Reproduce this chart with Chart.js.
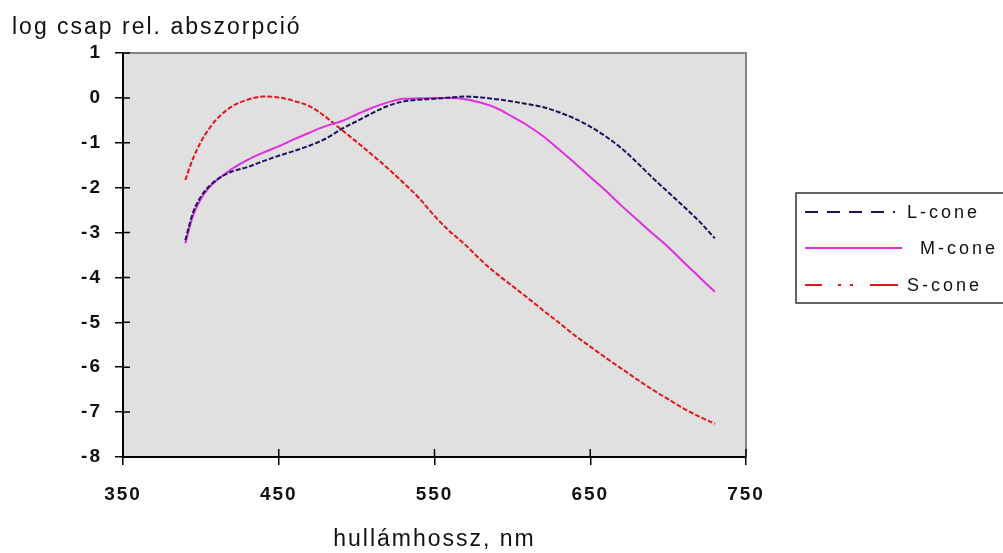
<!DOCTYPE html>
<html>
<head>
<meta charset="utf-8">
<script src="https://cdn.jsdelivr.net/npm/chart.js@4"></script>
<style>
  html, body { margin: 0; padding: 0; background: #fff; }
  #wrap { width: 1003px; height: 553px; }
</style>
</head>
<body>
<div id="wrap"><canvas id="coneChart" width="1003" height="553"></canvas></div>
<script>
// wavelengths (nm) and log relative absorption
const wavelengths = [390, 395, 400, 405, 410, 420, 430, 440, 450, 460, 470, 480, 490, 500, 510, 520, 530, 540, 550, 560, 570, 580, 590, 600, 610, 620, 630, 640, 650, 660, 670, 680, 690, 700, 710, 720, 730];
const lCone = [-3.17, -2.55, -2.2, -1.98, -1.83, -1.64, -1.54, -1.41, -1.29, -1.18, -1.06, -0.91, -0.7, -0.52, -0.34, -0.18, -0.08, -0.04, -0.02, 0.01, 0.03, 0.01, -0.03, -0.08, -0.14, -0.21, -0.32, -0.46, -0.64, -0.86, -1.12, -1.44, -1.78, -2.1, -2.42, -2.75, -3.13];
const mCone = [-3.24, -2.62, -2.25, -2.01, -1.84, -1.58, -1.38, -1.22, -1.08, -0.92, -0.77, -0.63, -0.52, -0.37, -0.22, -0.1, -0.02, -0.01, 0, 0, -0.03, -0.11, -0.23, -0.42, -0.62, -0.86, -1.15, -1.45, -1.76, -2.07, -2.4, -2.71, -3.02, -3.32, -3.66, -3.99, -4.32];
const sCone = [-1.83, -1.35, -0.98, -0.7, -0.48, -0.19, -0.04, 0.03, 0.01, -0.07, -0.19, -0.42, -0.7, -0.98, -1.27, -1.57, -1.89, -2.23, -2.63, -2.98, -3.28, -3.62, -3.92, -4.19, -4.46, -4.74, -5.01, -5.29, -5.54, -5.79, -6.03, -6.27, -6.5, -6.71, -6.92, -7.1, -7.26];
const seriesNames = ["L-cone", " M-cone", "S-cone"];

const FONT = "Arial, 'Liberation Sans', sans-serif";

function toPoints(ys) {
  return wavelengths.map((w, i) => ({ x: w, y: ys[i] }));
}

// legend dash patterns differ from the ones on the curves
const legendDash = [[13, 9], [], [17, 16, 3, 9, 3, 17, 40]];

const chartDecor = {
  id: "chartDecor",
  beforeDraw(chart) {
    const { ctx, chartArea: a } = chart;
    ctx.letterSpacing = "2px";
    ctx.save();
    ctx.fillStyle = "#e0e0e0";
    ctx.fillRect(a.left, a.top, a.right - a.left, a.bottom - a.top);
    ctx.restore();
  },
  afterDraw(chart) {
    const { ctx, chartArea: a } = chart;
    ctx.save();
    // top and right frame
    ctx.strokeStyle = "#858585";
    ctx.lineWidth = 2;
    ctx.beginPath();
    ctx.moveTo(a.left, a.top);
    ctx.lineTo(a.right, a.top);
    ctx.lineTo(a.right, a.bottom);
    ctx.stroke();
    // tick marks poking into the plot area
    ctx.strokeStyle = "#000";
    ctx.lineWidth = 1.5;
    const xs = chart.scales.x, ys = chart.scales.y;
    ctx.beginPath();
    xs.ticks.forEach(t => {
      const px = xs.getPixelForValue(t.value);
      ctx.moveTo(px, a.bottom);
      ctx.lineTo(px, a.bottom - 8);
    });
    ys.ticks.forEach(t => {
      const py = ys.getPixelForValue(t.value);
      ctx.moveTo(a.left, py);
      ctx.lineTo(a.left + 7, py);
    });
    ctx.stroke();

    // legend
    const boxL = 796, boxT = 193, boxB = 303;
    ctx.strokeStyle = "#333";
    ctx.lineWidth = 1.5;
    ctx.strokeRect(boxL, boxT, 230, boxB - boxT);
    const rowsY = [212, 248, 285];
    const lineEnd = [895, 902, 898];
    const textX = [907, 912, 907];
    ctx.font = "18px " + FONT;
    ctx.letterSpacing = "3px";
    ctx.textBaseline = "middle";
    ctx.textAlign = "left";
    chart.data.datasets.forEach((ds, i) => {
      ctx.strokeStyle = ds.borderColor;
      ctx.lineWidth = 2;
      ctx.setLineDash(legendDash[i]);
      ctx.beginPath();
      ctx.moveTo(805, rowsY[i]);
      ctx.lineTo(lineEnd[i], rowsY[i]);
      ctx.stroke();
      ctx.setLineDash([]);
      ctx.fillStyle = "#111";
      ctx.fillText(ds.label, textX[i], rowsY[i] + 1);
    });
    ctx.restore();
  }
};

const ctx = document.getElementById("coneChart").getContext("2d");
const coneChart = new Chart(ctx, {
  type: "line",
  data: {
    datasets: [
      {
        label: seriesNames[0],
        data: toPoints(lCone),
        borderColor: "#16165e",
        borderWidth: 2,
        borderDash: [5, 2],
        pointRadius: 0,
        cubicInterpolationMode: "monotone",
        fill: false
      },
      {
        label: seriesNames[1],
        data: toPoints(mCone),
        borderColor: "#e02ee0",
        borderWidth: 2,
        pointRadius: 0,
        cubicInterpolationMode: "monotone",
        fill: false
      },
      {
        label: seriesNames[2],
        data: toPoints(sCone),
        borderColor: "#e3161c",
        borderWidth: 2,
        borderDash: [5, 2],
        pointRadius: 0,
        cubicInterpolationMode: "monotone",
        fill: false
      }
    ]
  },
  options: {
    responsive: false,
    animation: false,
    layout: { padding: { left: 12, right: 257, top: 0, bottom: 0 } },
    plugins: {
      legend: { display: false },
      tooltip: { enabled: false },
      title: {
        display: true,
        text: "log csap rel. abszorpció",
        align: "start",
        color: "#111",
        font: { family: FONT, size: 23, weight: "normal" },
        padding: { top: 14, bottom: 11.4 }
      }
    },
    scales: {
      x: {
        type: "linear",
        min: 350,
        max: 750,
        afterFit: s => { s.height = 96; },
        ticks: {
          stepSize: 100,
          padding: 18,
          color: "#111",
          font: { family: FONT, size: 19, weight: "bold" }
        },
        grid: { drawOnChartArea: false, tickLength: 8, color: "#000", lineWidth: 1.5 },
        border: { color: "#000", width: 2 },
        title: {
          display: true,
          text: "hullámhossz, nm",
          color: "#111",
          padding: 0,
          font: { family: FONT, size: 23, weight: "normal" }
        }
      },
      y: {
        min: -8,
        max: 1,
        afterFit: s => { s.width = 111; },
        ticks: {
          stepSize: 1,
          padding: 13,
          color: "#111",
          font: { family: FONT, size: 19, weight: "bold" }
        },
        grid: { drawOnChartArea: false, tickLength: 8, color: "#000", lineWidth: 1.5 },
        border: { color: "#000", width: 2 }
      }
    }
  },
  plugins: [chartDecor]
});
</script>
</body>
</html>
